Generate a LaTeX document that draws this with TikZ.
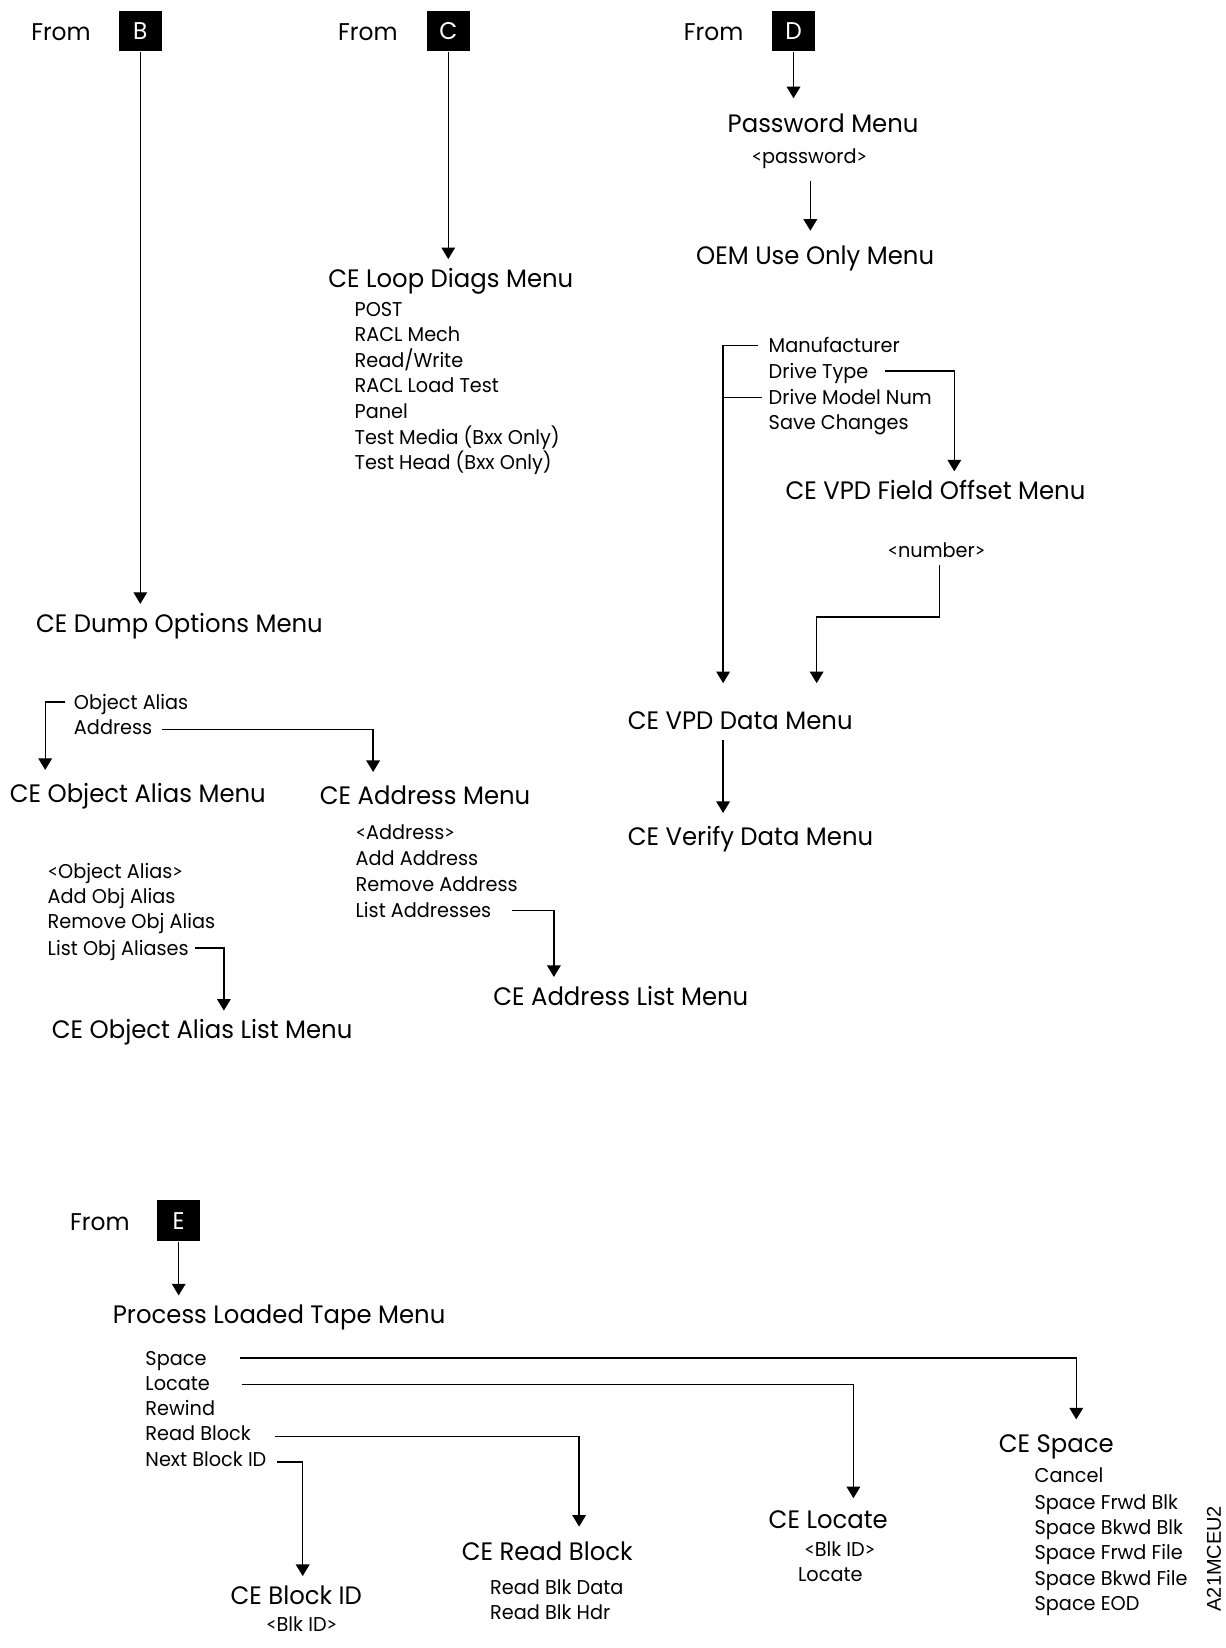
\documentclass[tikz,border=0pt]{standalone}
\usepackage{fontspec}
\setmainfont[FakeStretch=0.965]{Poppins}
\newfontfamily\tagfont{Liberation Sans}
\newfontfamily\signfont[FakeStretch=0.9]{Lato}
\newcommand{\ltsign}{{\signfont<}}
\newcommand{\gtsign}{{\signfont>}}
\usetikzlibrary{arrows.meta,calc}

\begin{document}
\begin{tikzpicture}[
  x=0.5pt, y=-0.5pt,
  title/.style={anchor=west, inner sep=0pt, outer ysep=5pt, text height=8.5pt, text depth=0pt, font=\fontsize{12}{14}\selectfont},
  item/.style={anchor=west, inner sep=0pt, text height=6.75pt, text depth=0pt, font=\fontsize{9.5}{11}\selectfont},
  from/.style={inner sep=0pt, font=\fontsize{11.5}{14}\selectfont},
  letter/.style={fill=black, text=white, minimum width=20.5pt, minimum height=19.5pt, inner sep=0pt, font=\fontsize{11.5}{14}\selectfont},
  link/.style={line width=0.6pt},
  arrow/.style={-{Triangle[length=5.5pt, width=6.5pt]}, line width=0.6pt}
]
\useasboundingbox (0,0) rectangle (1166,1568);

% entry points
\node[from] (fromB) at (58,31) {From};
\node[letter] (boxB) at (133.5,29.5) {B};
\node[from] (fromC) at (350,31) {From};
\node[letter] (boxC) at (426.5,29.5) {C};
\node[from] (fromD) at (679,31) {From};
\node[letter] (boxD) at (755,29.5) {D};
\node[from] (fromE) at (95,1163) {From};
\node[letter] (boxE) at (170,1161.5) {E};

% loop diags
\node[title] (loop) at (312,265) {CE Loop Diags Menu};
\node[item] (post) at (337,294) {POST};
\node[item] (raclmech) at (337,318.5) {RACL Mech};
\node[item] (readwrite) at (337,343) {Read/Write};
\node[item] (racltest) at (337,367) {RACL Load Test};
\node[item] (panel) at (337,391.5) {Panel};
\node[item] (testmedia) at (337,416) {Test Media (Bxx Only)};
\node[item] (testhead) at (337,440) {Test Head (Bxx Only)};

% password / OEM / VPD
\node[title] (pwd) at (692,118) {Password Menu};
\node[item, anchor=center] (pwdarg) at (770,149) {\ltsign password\gtsign};
\node[title] (oem) at (662,243) {OEM Use Only Menu};
\node[item] (manuf) at (731,329) {Manufacturer};
\node[item] (drvtype) at (731,353) {Drive Type};
\node[item] (drvmodel) at (731,378) {Drive Model Num};
\node[item] (savechg) at (731,402) {Save Changes};
\node[title] (offset) at (747,467) {CE VPD Field Offset Menu};
\node[item, anchor=center] (number) at (891,524) {\ltsign number\gtsign};
\node[title] (vpddata) at (597,686) {CE VPD Data Menu};
\node[title] (verify) at (597,796) {CE Verify Data Menu};

% dump options
\node[title] (dump) at (34,593) {CE Dump Options Menu};
\node[item] (objitem) at (70,668) {Object Alias};
\node[item] (addritem) at (70,692) {Address};
\node[title] (objalias) at (9,755) {CE Object Alias Menu};
\node[title] (address) at (304,757) {CE Address Menu};
\node[item] (addrarg) at (338,792) {\ltsign Address\gtsign};
\node[item] (addaddr) at (338,817) {Add Address};
\node[item] (remaddr) at (338,841) {Remove Address};
\node[item] (listaddr) at (338,866) {List Addresses};
\node[title] (addrlist) at (469,948) {CE Address List Menu};
\node[item] (objarg) at (45,829) {\ltsign Object Alias\gtsign};
\node[item] (addobj) at (45,853) {Add Obj Alias};
\node[item] (remobj) at (45,877) {Remove Obj Alias};
\node[item] (listobj) at (45,902) {List Obj Aliases};
\node[title] (objlist) at (49,980) {CE Object Alias List Menu};

% loaded tape
\node[title] (tape) at (107,1251) {Process Loaded Tape Menu};
\node[item] (space) at (138,1292) {Space};
\node[item] (locitem) at (138,1316) {Locate};
\node[item] (rewind) at (138,1340) {Rewind};
\node[item] (readblock) at (138,1364) {Read Block};
\node[item] (nextblock) at (138,1389) {Next Block ID};
\node[title] (cespace) at (950,1373) {CE Space};
\node[item] (cancel) at (984,1404) {Cancel};
\node[item] (sfb) at (984,1429) {Space Frwd Blk};
\node[item] (sbb) at (984,1453) {Space Bkwd Blk};
\node[item] (sff) at (984,1477) {Space Frwd File};
\node[item] (sbf) at (984,1502) {Space Bkwd File};
\node[item] (seod) at (984,1526) {Space EOD};
\node[title] (locate) at (731,1446) {CE Locate};
\node[item, anchor=center] (locarg) at (799,1474) {\ltsign Blk ID\gtsign};
\node[item, anchor=center] (locdo) at (790,1498) {Locate};
\node[title] (readblk) at (439,1476) {CE Read Block};
\node[item] (rbdata) at (466,1510) {Read Blk Data};
\node[item] (rbhdr) at (466,1534) {Read Blk Hdr};
\node[title] (blockid) at (219,1518) {CE Block ID};
\node[item, anchor=center] (blkarg) at (287,1546) {\ltsign Blk ID\gtsign};

\node[rotate=90, inner sep=0pt, font=\tagfont\fontsize{9.5}{11}\selectfont] (tag) at (1155,1483) {A21MCEU2};

% connectors
\draw[arrow] (boxB) -- (boxB |- dump.north);
\draw[arrow] (boxC) -- (boxC |- loop.north);
\draw[arrow] (boxD) -- ($(boxD |- pwd.north)+(0,-6)$);
\draw[arrow] ($(pwdarg.south)+(1,16)$) -- ($(oem.north west)+(109,-5)$);
\draw[arrow] ($(drvtype.west)+(111,0)$) -| ($(offset.north west)+(161,0)$);
\draw[arrow] ($(manuf.west)+(-10,0)$) -| ($(vpddata.north west)+(91,-17.5)$);
\draw[link] ($(drvmodel.west)+(-6,0)$) -- ++(-37,0);
\draw[arrow] ($(number.south)+(3,6)$) -- ++(0,50) -| ($(vpddata.north west)+(180,-17.5)$);
\draw[arrow] ($(vpddata.south west)+(91,0)$) -- ($(verify.north west)+(91,-4)$);
\draw[arrow] ($(objitem.west)+(-8,0)$) -| ($(objalias.north west)+(34,-4)$);
\draw[arrow] ($(addritem.west)+(84,2)$) -| ($(address.north west)+(51,-4)$);
\draw[arrow] ($(listaddr.west)+(149,0)$) -| ($(addrlist.north west)+(58,0)$);
\draw[arrow] ($(listobj.west)+(141,0)$) -| ($(objlist.north west)+(164,0)$);
\draw[arrow] (boxE) -- (boxE |- tape.north);
\draw[arrow] ($(space.west)+(90,0)$) -| ($(cespace.north west)+(74,-4)$);
\draw[arrow] ($(locitem.west)+(92,1)$) -| ($(locate.north west)+(81,-2)$);
\draw[arrow] ($(readblock.west)+(124,3)$) -| ($(readblk.north west)+(112,-5)$);
\draw[arrow] ($(nextblock.west)+(126,2)$) -| ($(blockid.north west)+(69,0)$);
\end{tikzpicture}
\end{document}
